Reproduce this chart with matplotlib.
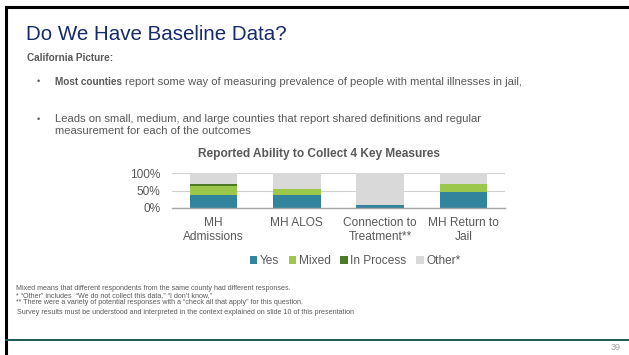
import matplotlib
matplotlib.use("Agg")
import matplotlib.pyplot as plt
from matplotlib.patches import Patch
from matplotlib.text import Annotation
import numpy as np

plt.rcParams['font.family'] = ['Liberation Sans', 'DejaVu Sans']

categories = ["MH\nAdmissions", "MH ALOS", "Connection to\nTreatment**", "MH Return to\nJail"]
yes = [38, 36, 9, 46]
mixed = [24, 19, 0, 24]
in_process = [7, 0, 0, 0]
other = [31, 45, 91, 30]
series_names = ["Yes", "Mixed", "In Process", "Other*"]
series_colors = ["#31849B", "#9BC84B", "#4E7A27", "#D9D9D9"]
yticks = [0, 50, 100]
ytick_labels = ["0%", "50%", "100%"]

W, H = 629, 355
fig = plt.figure(figsize=(W / 100, H / 100), dpi=100)

def fx(px):
    return px / W

def fy(py):
    return 1 - py / H

# slide frame
fig.add_artist(plt.Line2D([fx(5.5), 1], [fy(6.5), fy(6.5)], color="black", lw=2.2))
fig.add_artist(plt.Line2D([fx(5.5), fx(5.5)], [fy(6.5), 0], color="black", lw=2.2))
fig.add_artist(plt.Line2D([fx(5.5), 1], [fy(339.5), fy(339.5)], color="#1B5A57", lw=1.4))

gray = "#595959"
body = 8.1
fig.text(fx(26.5), fy(34), "Do We Have Baseline Data?", fontsize=14.8, color="#162B6B", va="center")
fig.text(fx(27), fy(58), "California Picture:", fontsize=7.2, fontweight="bold", color=gray, va="center")

fig.text(fx(37), fy(82), "•", fontsize=6.5, color=gray, va="center")
bold = fig.text(fx(55), fy(82), "Most counties", fontsize=7.2, fontweight="bold", color=gray, va="center")
fig.add_artist(Annotation("report some way of measuring prevalence of people with mental illnesses in jail,",
                          xy=(1, 0.5), xycoords=bold, xytext=(2.0, 0), textcoords="offset points",
                          fontsize=body, color=gray, va="center", ha="left"))
fig.text(fx(37), fy(119), "•", fontsize=6.5, color=gray, va="center")
fig.text(fx(55), fy(119), "Leads on small, medium, and large counties that report shared definitions and regular",
         fontsize=body, color=gray, va="center")
fig.text(fx(55), fy(131), "measurement for each of the outcomes", fontsize=body, color=gray, va="center")

fig.text(fx(319), fy(154), "Reported Ability to Collect 4 Key Measures", fontsize=8.6,
         fontweight="bold", color=gray, ha="center", va="center")

# stacked bar chart
ax = fig.add_axes([fx(172), fy(208), fx(505) - fx(172), fy(173) - fy(208)])
x = np.arange(len(categories))
bottom = np.zeros(len(categories))
for vals, name, col in zip([yes, mixed, in_process, other], series_names, series_colors):
    ax.bar(x, vals, width=0.57, bottom=bottom, color=col, label=name, zorder=2)
    bottom += np.array(vals)

ax.set_xlim(-0.5, len(categories) - 0.5)
ax.set_ylim(0, 100)
ax.set_yticks(yticks)
ax.set_yticklabels(ytick_labels, fontsize=8.6, color=gray)
ax.set_xticks(x)
ax.set_xticklabels(categories, fontsize=8.6, color=gray, linespacing=1.2)
ax.tick_params(axis="x", length=0, pad=6.5)
ax.tick_params(axis="y", length=0, pad=8.5)
for s in ["top", "right", "left"]:
    ax.spines[s].set_visible(False)
ax.spines["bottom"].set_color("#A6A6A6")
ax.spines["bottom"].set_linewidth(1.0)
ax.spines["bottom"].set_zorder(3)
ax.grid(axis="y", color="#D0D0D0", lw=0.8, zorder=0)
ax.set_axisbelow(True)
ax.patch.set_alpha(0)

handles = [Patch(facecolor=c, edgecolor="none") for c in series_colors]
fig.legend(handles, series_names, loc="center", bbox_to_anchor=(fx(355), fy(261)), ncol=4,
           frameon=False, fontsize=8.6, labelcolor=gray, handlelength=0.65, handleheight=0.65,
           handletextpad=0.2, columnspacing=0.8)

foot = 5.1
fig.text(fx(16), fy(288), "Mixed means that different respondents from the same county had different responses.",
         fontsize=foot, color=gray, va="center")
fig.text(fx(16), fy(295.5), "* \u201cOther\u201d includes  \u201cWe do not collect this data,\u201d \u201cI don\u2019t know,\u201d",
         fontsize=foot, color=gray, va="center")
fig.text(fx(16), fy(303), "** There were a variety of potential responses with a \u201ccheck all that apply\u201d for this question.",
         fontsize=foot, color=gray, va="center")
fig.text(fx(17), fy(313), "Survey results must be understood and interpreted in the context explained on slide 10 of this presentation",
         fontsize=foot, color=gray, va="center")

fig.text(fx(621), fy(348), "39", fontsize=6.5, color="#A0A0A0", ha="right", va="center")

fig.savefig("out.png", dpi=100)
